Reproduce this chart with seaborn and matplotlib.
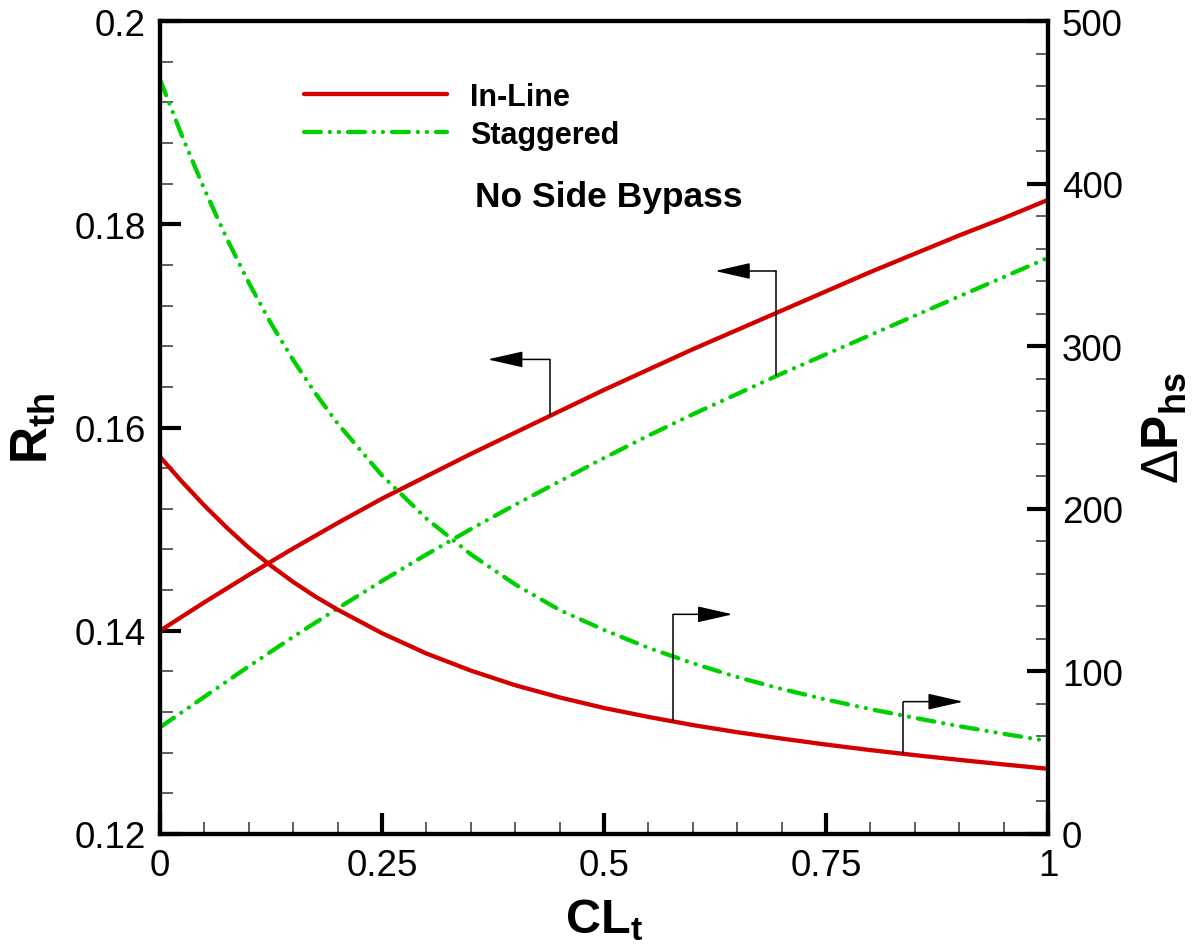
import numpy as np
import matplotlib
matplotlib.use("Agg")
import matplotlib.pyplot as plt
from matplotlib.ticker import MultipleLocator, FuncFormatter
import seaborn as sns

# Tip clearance ratio
cl_t = [0.000, 0.025, 0.050, 0.075, 0.100, 0.125, 0.150, 0.175, 0.200,
        0.25, 0.30, 0.35, 0.40, 0.45, 0.50, 0.55, 0.60, 0.65, 0.70, 0.75,
        0.80, 0.85, 0.90, 0.95, 1.00]

# Thermal resistance (left axis)
rth_inline = [0.1400, 0.1414, 0.1428, 0.14415, 0.1455, 0.1468, 0.1481, 0.14935,
              0.1506, 0.1530, 0.1552, 0.1574, 0.1595, 0.1616, 0.1637, 0.1657,
              0.1677, 0.1696, 0.1715, 0.1734, 0.1753, 0.1771, 0.1789, 0.1806,
              0.1824]
rth_staggered = [0.1305, 0.1320, 0.1335, 0.1350, 0.1365, 0.13795, 0.1394, 0.1408,
                 0.1422, 0.1449, 0.1475, 0.1500, 0.1524, 0.1547, 0.1570, 0.1592,
                 0.1613, 0.1633, 0.1653, 0.1672, 0.1691, 0.1710, 0.1729, 0.1748,
                 0.1767]

# Heat-sink pressure drop (right axis)
dp_inline = [232, 216.5, 202, 188.5, 176, 165, 155, 146, 138,
             123.5, 111, 100.5, 91.5, 84, 77.5, 72, 67, 62.6, 58.7, 55.0,
             51.6, 48.5, 45.6, 42.8, 40.1]
dp_staggered = [464, 429, 396.5, 366.5, 339, 314, 291.5, 271, 252.5,
                220.5, 194, 172, 153.5, 137.75, 125.5, 114.5, 105, 96.5, 89.2,
                82.7, 76.8, 71.4, 66.3, 61.6, 57.2]

series_labels = ["In-Line", "Staggered"]
x_ticks = [0, 0.25, 0.5, 0.75, 1]
left_ticks = [0.12, 0.14, 0.16, 0.18, 0.2]
right_ticks = [0, 100, 200, 300, 400, 500]

sns.set_style("ticks")
plt.rcParams["font.family"] = ["Liberation Sans", "DejaVu Sans"]
plt.rcParams["mathtext.fontset"] = "custom"
plt.rcParams["mathtext.rm"] = "Liberation Sans"
plt.rcParams["mathtext.bf"] = "Liberation Sans:bold"
plt.rcParams["mathtext.it"] = "Liberation Sans:italic"
for key in ("text.color", "axes.labelcolor", "xtick.color", "ytick.color",
            "axes.edgecolor"):
    plt.rcParams[key] = "black"

RED = "#d40000"
GREEN = "#00d000"
LW = 3.1
DASHDOTDOT = (0, (3.9, 2.1, 0.01, 2.1, 0.01, 2.1))

fig = plt.figure(figsize=(11.94, 9.45), dpi=100)
ax = fig.add_axes([160 / 1194, 1 - 835 / 945, 888 / 1194, 813 / 945])
ax2 = ax.twinx()

# left-axis curves
sns.lineplot(x=cl_t, y=rth_inline, ax=ax, color=RED, lw=LW, label=series_labels[0])
sns.lineplot(x=cl_t, y=rth_staggered, ax=ax, color=GREEN, lw=LW,
             linestyle=DASHDOTDOT, dash_capstyle="round", label=series_labels[1])
# right-axis curves
sns.lineplot(x=cl_t, y=dp_inline, ax=ax2, color=RED, lw=LW, legend=False)
sns.lineplot(x=cl_t, y=dp_staggered, ax=ax2, color=GREEN, lw=LW,
             linestyle=DASHDOTDOT, dash_capstyle="round", legend=False)

ax.set_xlim(0, 1)
ax.set_ylim(0.12, 0.2)
ax2.set_ylim(0, 500)

fmt = FuncFormatter(lambda v, p: f"{v:g}")
ax.set_xticks(x_ticks)
ax.set_yticks(left_ticks)
ax2.set_yticks(right_ticks)
for a in (ax, ax2):
    a.xaxis.set_major_formatter(fmt)
    a.yaxis.set_major_formatter(fmt)
ax.xaxis.set_minor_locator(MultipleLocator(0.05))
ax.yaxis.set_minor_locator(MultipleLocator(0.004))
ax2.yaxis.set_minor_locator(MultipleLocator(20))

ax.tick_params(axis="both", which="major", direction="in", length=15, width=3,
               labelsize=26.5, pad=10, top=False, right=False, color="black")
ax.tick_params(axis="both", which="minor", direction="in", length=9, width=1.1,
               top=False, right=False, color="#333333")
ax2.tick_params(axis="y", which="major", direction="in", length=15, width=3,
                labelsize=26.5, pad=10, color="black")
ax2.tick_params(axis="y", which="minor", direction="in", length=9, width=1.1,
                color="#333333")

for a in (ax, ax2):
    for s in a.spines.values():
        s.set_linewidth(3)
        s.set_color("black")

ax.set_xlabel(r"$\mathbf{CL}_\mathbf{t}$", fontsize=35, labelpad=10)
ax.set_ylabel(r"$\mathbf{R}_\mathbf{th}$", fontsize=37, labelpad=12)
ax2.set_ylabel(r"$\Delta\mathbf{P}_\mathbf{hs}$", fontsize=37, labelpad=12,
               rotation=90)


def flag(axis, xs, ys, x0, y_top, x_tip):
    """Vertical stem from a curve point, then an arrow toward its axis."""
    y0 = float(np.interp(x0, xs, ys))
    axis.plot([x0, x0], [y0, y_top], color="black", lw=1.1, solid_capstyle="butt")
    axis.annotate("", xy=(x_tip, y_top), xytext=(x0, y_top),
                  arrowprops=dict(arrowstyle="-|>,head_length=22,head_width=5",
                                  mutation_scale=1, color="black", lw=1.1,
                                  shrinkA=0, shrinkB=0))


flag(ax, cl_t, rth_inline, 0.439, 0.1667, 0.369)
flag(ax, cl_t, rth_staggered, 0.694, 0.1754, 0.625)
flag(ax2, cl_t, dp_inline, 0.578, 135.1, 0.645)
flag(ax2, cl_t, dp_inline, 0.837, 81.4, 0.9045)

leg = ax.legend(loc="upper left", bbox_to_anchor=(0.162, 0.925), frameon=False,
                prop={"weight": "bold", "size": 22}, handlelength=4.7,
                handletextpad=0.75, labelspacing=0.25, borderpad=0,
                borderaxespad=0)

ax.text(0.3547, 0.7847, "No Side Bypass", transform=ax.transAxes,
        fontsize=25.5, fontweight="bold", ha="left", va="center")

fig.savefig("out.png", dpi=100)
